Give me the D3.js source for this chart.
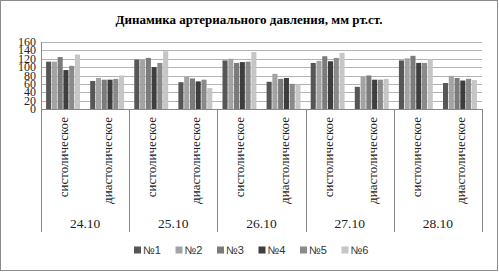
<!DOCTYPE html>
<html lang="ru">
<head>
<meta charset="UTF-8">
<title>Динамика артериального давления</title>
<script src="https://d3js.org/d3.v7.min.js"></script>
<style>
    body { margin: 0; background: #fff; }
    svg { display: block; }
    .legend text { font-family: "Liberation Sans", Arial, sans-serif; font-size: 11px; fill: #333; }
</style>
</head>
<body>
<svg id="chart" width="499" height="272"></svg>
<script>
const dates = ["24.10", "25.10", "26.10", "27.10", "28.10"];
const kinds = ["систолическое", "диастолическое"];
const series = ["№1", "№2", "№3", "№4", "№5", "№6"];
const colors = ["#565656", "#a3a3a3", "#7b7b7b", "#3e3e3e", "#8a8a8a", "#c6c6c6"];
const yTicks = [0, 20, 40, 60, 80, 100, 120, 140, 160];

// values per series, order: 24.10 сист, 24.10 диаст, 25.10 сист, ...
const s1 = [113, 67, 118, 64, 116, 65, 110, 53, 116, 62];
const s2 = [113, 74, 118, 77, 120, 84, 115, 77, 121, 79];
const s3 = [124, 70, 122, 73, 110, 72, 126, 80, 127, 74];
const s4 = [93, 70, 100, 66, 112, 74, 114, 70, 110, 68];
const s5 = [103, 72, 110, 70, 113, 60, 122, 70, 110, 72];
const s6 = [130, 80, 138, 50, 136, 58, 134, 72, 119, 69];
const values = [s1, s2, s3, s4, s5, s6];

const serif = "'Liberation Serif', 'Times New Roman', 'DejaVu Serif', serif";

const svg = d3.select("#chart");
const plotL = 41, plotR = 482, plotT = 42, plotB = 109;

svg.append("rect")
    .attr("x", 0.5).attr("y", 0.5)
    .attr("width", 497).attr("height", 270)
    .attr("fill", "#fff").attr("stroke", "#8c8c8c");

svg.append("text")
    .attr("font-family", serif)
    .attr("x", 249).attr("y", 24)
    .attr("text-anchor", "middle")
    .attr("font-size", 13).attr("font-weight", "bold")
    .text("Динамика артериального давления, мм рт.ст.");

const cats = [];
dates.forEach(d => kinds.forEach(k => cats.push(d + "|" + k)));

const x0 = d3.scaleBand().domain(cats).range([plotL, plotR]).paddingInner(0.2).paddingOuter(0.1);
const xDate = d3.scaleBand().domain(dates).range([plotL, plotR]);
const x1 = d3.scaleBand().domain(series).range([0, x0.bandwidth()]).padding(0.12);
const y = d3.scaleLinear().domain([0, 160]).range([plotB, plotT]);

// gridlines
svg.append("g")
    .selectAll("line")
    .data(yTicks)
    .join("line")
    .attr("x1", plotL).attr("x2", plotR)
    .attr("y1", d => Math.round(y(d)) + 0.5).attr("y2", d => Math.round(y(d)) + 0.5)
    .attr("stroke", "#b3b3b3");

// y labels (packed tight, as in the original)
svg.append("g")
    .selectAll("text")
    .data(yTicks)
    .join("text")
    .attr("font-family", serif)
    .attr("x", 36).attr("y", d => y(d) + 4)
    .attr("text-anchor", "end")
    .attr("font-size", 12)
    .attr("fill", "#222")
    .text(d => d);

// bars
series.forEach((s, i) => {
    svg.append("g")
        .selectAll("rect")
        .data(values[i])
        .join("rect")
        .attr("x", (d, j) => x0(cats[j]) + x1(s))
        .attr("y", d => y(d))
        .attr("width", x1.bandwidth())
        .attr("height", d => y(0) - y(d))
        .attr("fill", colors[i]);
});

// axis lines and group separators
svg.append("line")
    .attr("x1", plotL).attr("x2", plotR)
    .attr("y1", plotB + 0.5).attr("y2", plotB + 0.5)
    .attr("stroke", "#888");
svg.append("line")
    .attr("x1", plotL + 0.5).attr("x2", plotL + 0.5)
    .attr("y1", plotT).attr("y2", plotB)
    .attr("stroke", "#888");

const seps = dates.map(d => xDate(d)).concat([plotR]);
svg.append("g")
    .selectAll("line")
    .data(seps)
    .join("line")
    .attr("x1", d => Math.round(d) + 0.5).attr("x2", d => Math.round(d) + 0.5)
    .attr("y1", plotB).attr("y2", 232)
    .attr("stroke", "#888");

// rotated category labels
svg.append("g")
    .selectAll("text")
    .data(cats)
    .join("text")
    .attr("font-family", serif)
    .attr("font-size", 13)
    .attr("fill", "#222")
    .attr("text-anchor", "end")
    .attr("transform", d => `translate(${x0(d) + x0.bandwidth() / 2 + 5},117) rotate(-90)`)
    .text(d => d.split("|")[1]);

// date labels
svg.append("g")
    .selectAll("text")
    .data(dates)
    .join("text")
    .attr("font-family", serif)
    .attr("font-size", 13.5)
    .attr("fill", "#222")
    .attr("text-anchor", "middle")
    .attr("x", d => xDate(d) + xDate.bandwidth() / 2)
    .attr("y", 228)
    .text(d => d);

// legend
const legend = svg.append("g").attr("class", "legend");
const item = legend.selectAll("g")
    .data(series)
    .join("g")
    .attr("transform", (d, i) => `translate(${134 + i * 41.5},250)`);
item.append("rect")
    .attr("x", 0).attr("y", -3.5)
    .attr("width", 7).attr("height", 7)
    .attr("fill", (d, i) => colors[i]);
item.append("text")
    .attr("x", 9).attr("y", 4)
    .text(d => d);
</script>
</body>
</html>
